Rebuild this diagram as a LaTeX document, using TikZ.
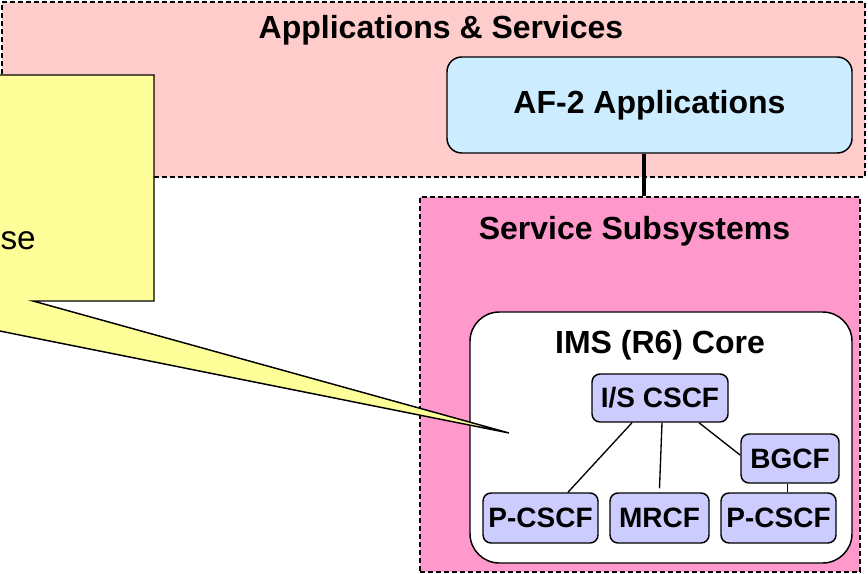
\documentclass[tikz,border=0pt]{standalone}
\usepackage{fontspec}
\setmainfont{Liberation Sans}
\usepackage{tikz}
\usetikzlibrary{calc}
\usetikzlibrary{positioning}
\definecolor{appbg}{HTML}{FFCCCC}
\definecolor{svcbg}{HTML}{FF99CC}
\definecolor{afbg}{HTML}{CCECFF}
\definecolor{fnbg}{HTML}{CCCCFF}
\definecolor{notebg}{HTML}{FFFF99}

\begin{document}
\begin{tikzpicture}[x=0.75pt,y=-0.75pt]
\tikzstyle{area}=[rectangle,draw,dash pattern=on 3.75pt off 2.25pt,line width=1.2pt]
\tikzstyle{title}=[anchor=base,inner sep=0pt,font=\fontsize{24}{28}\selectfont\bfseries]
\tikzstyle{af}=[rectangle,rounded corners=11pt,draw,line width=1.1pt,fill=afbg,font=\fontsize{24}{28}\selectfont\bfseries]
\tikzstyle{fn}=[rectangle,rounded corners=6pt,draw,line width=1.1pt,fill=fnbg,inner sep=0pt,font=\fontsize{21}{25}\selectfont\bfseries]
\useasboundingbox (0,0) rectangle (868,574);
\node[area,fill=appbg,minimum width=647.25pt,minimum height=131.25pt] at(433.5, 89.5) (apps) {};
\node[title] at(441, 39) (appst) {Applications \& Services};
\node[af,minimum width=303.75pt,minimum height=72pt] at(649.5, 105) (af2) {AF-2 Applications};
\node[area,fill=svcbg,minimum width=330pt,minimum height=281.25pt] at(640, 384.5) (svc) {};
\node[title] at(634.5, 240) (svct) {Service Subsystems};
\draw[line width=3pt] ([xshift=-4pt]af2.south) -- ([xshift=-4pt]af2.south |- svc.north);
\node[rectangle,rounded corners=22pt,draw,line width=1.1pt,fill=white,minimum width=286.5pt,minimum height=188.25pt] at(661, 437.5) (ims) {};
\node[title] at(660, 353) (imst) {IMS (R6) Core};
\node[fn,minimum width=102pt,minimum height=36pt] at(660, 398) (iscscf) {I/S CSCF};
\node[fn,minimum width=73.5pt,minimum height=36.75pt] at(790, 458.5) (bgcf) {BGCF};
\node[fn,minimum width=86.25pt,minimum height=37.5pt] at(540.5, 518) (pcscfa) {P-CSCF};
\node[fn,minimum width=74.25pt,minimum height=37.5pt] at(659.5, 518) (mrcf) {MRCF};
\node[fn,minimum width=86.25pt,minimum height=37.5pt] at(778.5, 518) (pcscfb) {P-CSCF};
\draw[line width=1pt] ([xshift=-21pt]iscscf.south) -- ([xshift=20.6pt]pcscfa.north);
\draw[line width=1pt] ([xshift=1.5pt]iscscf.south) -- ([yshift=3pt]mrcf.north);
\draw[line width=1pt] ([xshift=29.25pt]iscscf.south) -- ([yshift=2.5pt]bgcf.west);
\draw[line width=1pt] ([xshift=-2pt]bgcf.south) -- ([xshift=-2pt]bgcf.south |- pcscfb.north);
\draw[line width=1.1pt,fill=notebg] (-160, 75) -- (154, 75) -- (154, 301) -- (33, 301) -- (509, 433) -- (-150, 301) -- (-160, 301) -- cycle;
\node[anchor=base east,inner sep=0pt,font=\fontsize{25}{30}\selectfont] at(36, 250) (note) {se};
\end{tikzpicture}
\end{document}
